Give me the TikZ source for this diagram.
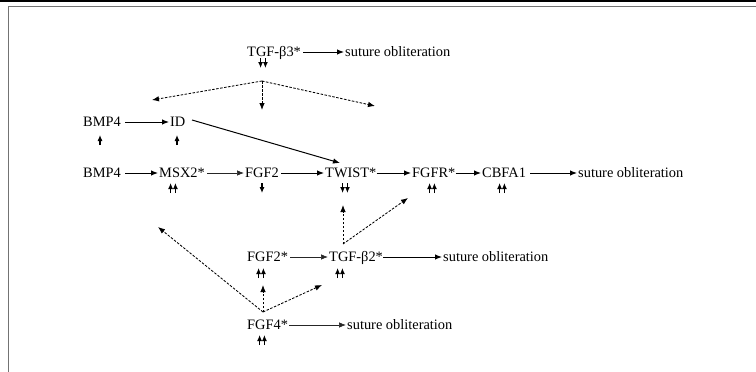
\documentclass[tikz,border=0pt]{standalone}
\usepackage{fontspec}
\setmainfont{Liberation Serif}
\usetikzlibrary{arrows.meta}
\newcommand\myup[2]{\draw[mk] (#1,#2+10) -- (#1,#2);}
\newcommand\mydn[2]{\draw[mk] (#1,#2) -- (#1,#2+10);}
\newcommand\myupp[2]{\myup{#1-2.4}{#2}\myup{#1+2.4}{#2}}
\newcommand\mydnn[2]{\mydn{#1-2.4}{#2}\mydn{#1+2.4}{#2}}
\begin{document}
\begin{tikzpicture}[x=1pt,y=-1pt,
  lbl/.style={anchor=west,inner sep=0pt,text height=9.5pt,text depth=0pt,font=\fontsize{14.4}{16}\selectfont},
  arr/.style={-{Latex[length=7pt,width=5.5pt]},line width=1pt,shorten <=2pt,shorten >=1pt},
  thinarr/.style={arr,line width=0.7pt,black!85},
  dsh/.style={-{Latex[length=7pt,width=5.5pt]},line width=0.85pt,dash pattern=on 2.5pt off 1.5pt},
  mk/.style={-{Latex[length=6pt,width=5pt]},line width=1.1pt}]
\useasboundingbox (0,0) rectangle (756,372);
% frame
\fill[black] (0,0) rectangle (756,2);
\draw[black!55,line width=1.2pt] (8.3,372) -- (8.3,6.5) -- (756,6.5);
% nodes
\node[lbl] (tgfb3) at (247,52) {TGF-β3*};
\node[lbl] (so1) at (345,52) {suture obliteration};
\node[lbl] (bmp4a) at (83,122) {BMP4};
\node[lbl] (id) at (170,122) {ID};
\node[lbl] (bmp4b) at (83,173) {BMP4};
\node[lbl] (msx2) at (159,173) {MSX2*};
\node[lbl] (fgf2) at (245,173) {FGF2};
\node[lbl] (twist) at (325,173) {TWIST*};
\node[lbl] (fgfr) at (412,173) {FGFR*};
\node[lbl] (cbfa1) at (482,173) {CBFA1};
\node[lbl] (so2) at (578,173) {suture obliteration};
\node[lbl] (fgf2s) at (247,257) {FGF2*};
\node[lbl] (tgfb2) at (329,257) {TGF-β2*};
\node[lbl] (so3) at (443,257) {suture obliteration};
\node[lbl] (fgf4) at (247,325) {FGF4*};
\node[lbl] (so4) at (347,325) {suture obliteration};
% solid connectors
\draw[arr] (tgfb3.east) -- (so1.west);
\draw[arr,shorten <=4pt] (bmp4a.east) -- (id.west);
\draw[arr,shorten <=4pt] (bmp4b.east) -- (msx2.west);
\draw[thinarr] (msx2.east) -- (fgf2.west);
\draw[arr] (fgf2.east) -- (twist.west);
\draw[arr,shorten <=0pt] (twist.east) -- (fgfr.west);
\draw[arr,shorten <=0pt] (fgfr.east) -- (cbfa1.west);
\draw[arr,shorten <=4pt] (cbfa1.east) -- (so2.west);
\draw[thinarr] (fgf2s.east) -- (tgfb2.west);
\draw[arr,shorten <=0pt] (tgfb2.east) -- (so3.west);
\draw[thinarr,shorten <=1pt] (fgf4.east) -- (so4.west);
\coordinate (idout) at (192,120);
\coordinate (twin) at (340,163);
\draw[arr,shorten <=0pt,shorten >=0pt] (idout) -- (twin);
% dashed fans
\coordinate (a1) at (262,81);
\coordinate (a1l) at (152,100);
\coordinate (a1d) at (262,110);
\coordinate (a1r) at (375,106);
\draw[dsh] (a1) -- (a1l);
\draw[dsh] (a1) -- (a1d);
\draw[dsh] (a1) -- (a1r);
\coordinate (a2) at (343,244);
\coordinate (a2u) at (343,205);
\coordinate (a2r) at (408,198);
\draw[dsh] (a2) -- (a2u);
\draw[dsh] (a2) -- (a2r);
\coordinate (a3) at (263,312);
\coordinate (a3l) at (158,227);
\coordinate (a3u) at (263,285);
\coordinate (a3r) at (322,285);
\draw[dsh] (a3) -- (a3l);
\draw[dsh] (a3) -- (a3u);
\draw[dsh] (a3) -- (a3r);
% small markers
\mydnn{263}{58}
\myup{100}{135}
\myup{177}{135}
\myupp{173}{183}
\mydn{262}{183}
\mydnn{345}{183}
\myupp{432}{183}
\myupp{502}{183}
\myupp{261}{268}
\myupp{340}{268}
\myupp{262}{335}
\end{tikzpicture}
\end{document}
